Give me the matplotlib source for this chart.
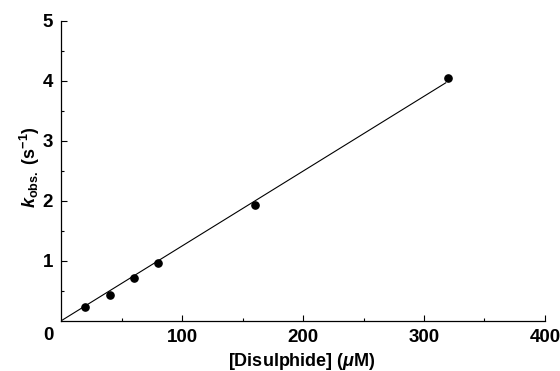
import matplotlib
matplotlib.use('Agg')
import matplotlib.pyplot as plt
import numpy as np

plt.rcParams['font.family'] = ['Liberation Sans', 'DejaVu Sans']
plt.rcParams['mathtext.fontset'] = 'custom'
plt.rcParams['mathtext.rm'] = 'Liberation Sans:bold'
plt.rcParams['mathtext.it'] = 'Liberation Sans:italic:bold'
plt.rcParams['mathtext.bf'] = 'Liberation Sans:bold'

# 数据
disulphide = [20, 40, 60, 80, 160, 320]       # µM
k_obs = [0.22, 0.42, 0.71, 0.96, 1.93, 4.05]  # s^-1
fit_end = 318
x_ticks = [100, 200, 300, 400]
y_ticks = [1, 2, 3, 4, 5]

# 过原点的线性拟合
x = np.array(disulphide, dtype=float)
y = np.array(k_obs)
slope = (x * y).sum() / (x * x).sum()

fig = plt.figure(figsize=(5.6, 3.71), dpi=100)
ax = fig.add_axes([0.1095, 0.1356, 0.8635, 0.8086])

ax.plot([0, fit_end], [0, slope * fit_end], color='black', lw=0.8)
ax.plot(disulphide, k_obs, 'o', color='black', ms=5.2)

ax.set_xlim(0, 400)
ax.set_ylim(0, 5)
ax.set_xticks(x_ticks)
ax.set_yticks(y_ticks)
ax.set_xticks(np.arange(50, 400, 100), minor=True)
ax.set_yticks(np.arange(0.5, 5, 1.0), minor=True)
ax.tick_params(direction='in', length=4, width=0.8, labelsize=13.5, pad=6)
ax.tick_params(which='minor', direction='in', length=2.5, width=0.8)
for t in ax.get_xticklabels() + ax.get_yticklabels():
    t.set_fontweight('bold')

ax.spines['top'].set_visible(False)
ax.spines['right'].set_visible(False)
ax.spines['left'].set_linewidth(0.9)
ax.spines['bottom'].set_linewidth(0.9)

# 原点的 "0"
fig.text(48 / 560, 1 - 336 / 371, '0', ha='center', va='center',
         fontsize=13.5, fontweight='bold')

fig.text(302 / 560, 1 - 362 / 371, '[Disulphide] ($\\mu$M)', ha='center', va='center',
         fontsize=13, fontweight='bold')
fig.text(30 / 560, 1 - 167 / 371, '$k_{\\rm obs.}$ (s$^{-1}$)', ha='center', va='center',
         fontsize=13, fontweight='bold', rotation=90)

fig.savefig('out.png', dpi=100)
